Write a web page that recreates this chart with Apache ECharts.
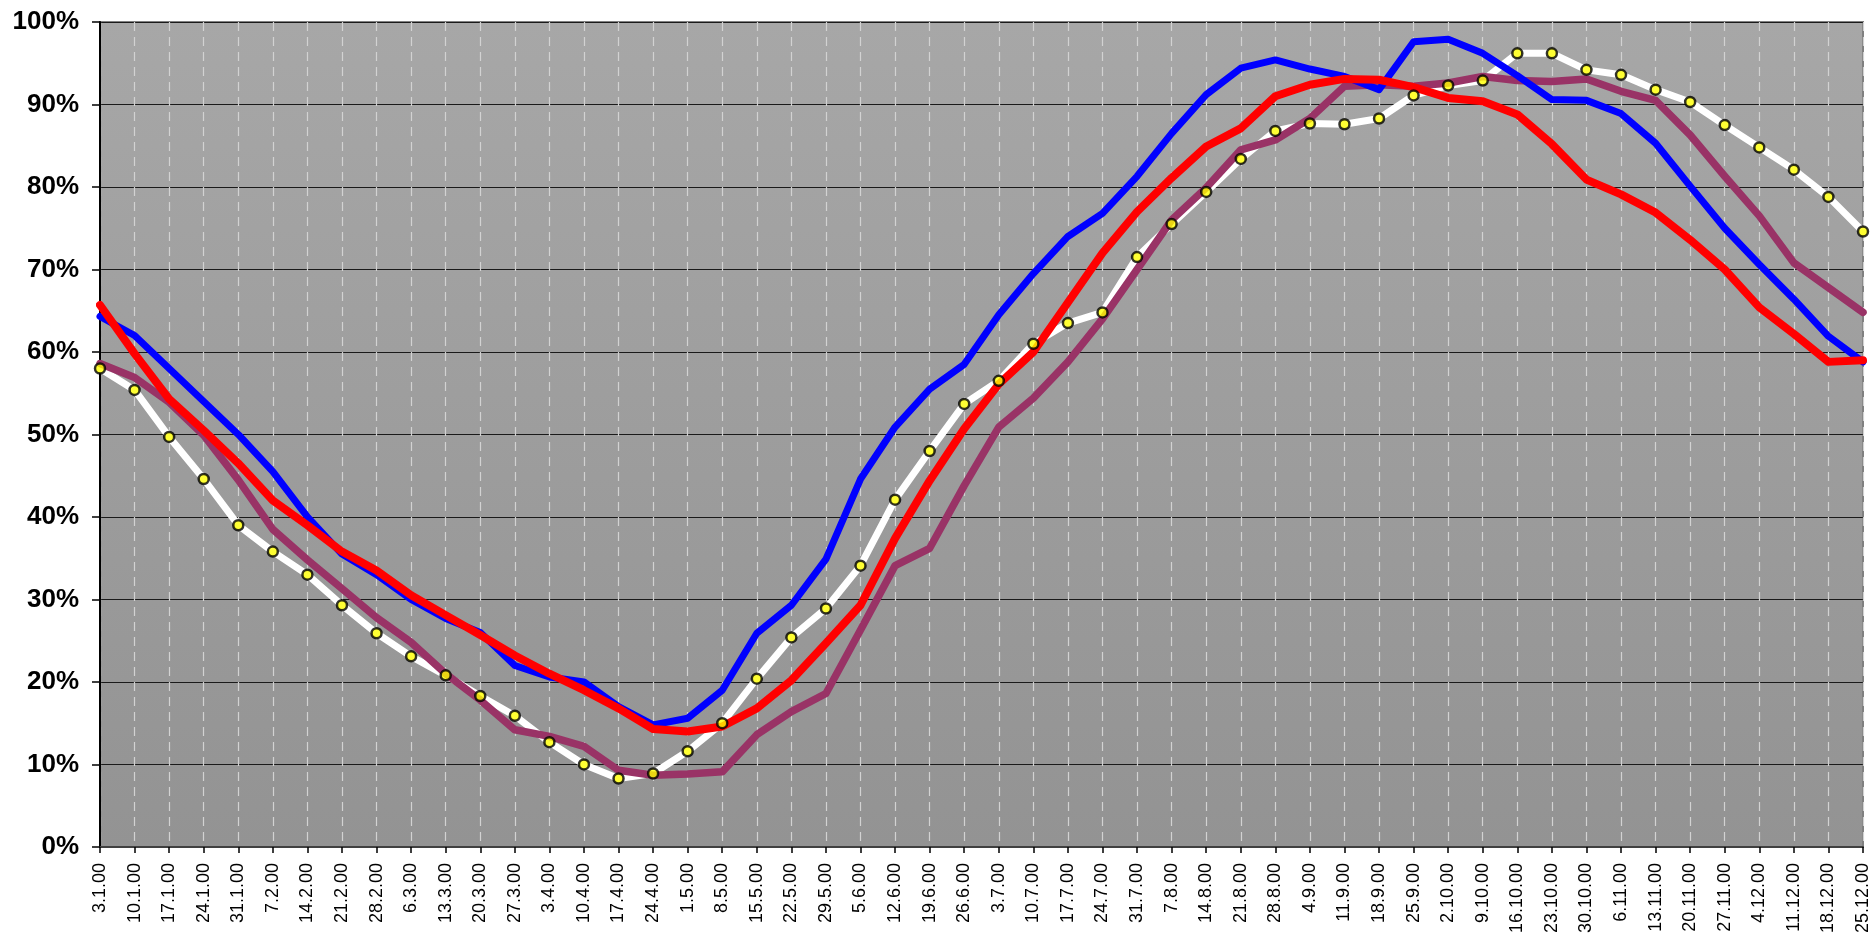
<!DOCTYPE html>
<html>
<head>
<meta charset="utf-8">
<script src="https://cdn.jsdelivr.net/npm/echarts@6/dist/echarts.min.js"></script>
<style>
html,body{margin:0;padding:0;background:#fff;}
#c{width:1874px;height:936px;}
</style>
</head>
<body>
<div id="c"></div>
<script>
const categories = ['3.1.00','10.1.00','17.1.00','24.1.00','31.1.00','7.2.00','14.2.00','21.2.00','28.2.00','6.3.00','13.3.00','20.3.00','27.3.00','3.4.00','10.4.00','17.4.00','24.4.00','1.5.00','8.5.00','15.5.00','22.5.00','29.5.00','5.6.00','12.6.00','19.6.00','26.6.00','3.7.00','10.7.00','17.7.00','24.7.00','31.7.00','7.8.00','14.8.00','21.8.00','28.8.00','4.9.00','11.9.00','18.9.00','25.9.00','2.10.00','9.10.00','16.10.00','23.10.00','30.10.00','6.11.00','13.11.00','20.11.00','27.11.00','4.12.00','11.12.00','18.12.00','25.12.00'];

const blueValues = [64.3,62.0,58.0,54.0,50.0,45.5,40.0,35.5,33.0,30.0,27.7,26.0,22.0,20.6,20.0,17.0,14.8,15.6,19.0,25.9,29.3,34.9,44.6,50.9,55.5,58.5,64.5,69.5,74.0,76.8,81.3,86.5,91.2,94.4,95.4,94.3,93.4,91.8,97.6,97.9,96.2,93.5,90.6,90.5,88.9,85.3,80.1,75.0,70.6,66.4,61.9,58.8];

const redValues = [65.7,59.8,54.3,50.5,46.5,42.0,39.0,35.8,33.5,30.5,28.1,25.7,23.2,21.0,19.0,16.8,14.3,14.0,14.6,16.8,20.2,24.7,29.3,37.4,44.4,50.7,56.1,60.0,66.0,72.0,77.0,81.1,84.9,87.1,91.0,92.4,93.1,93.0,92.1,90.8,90.4,88.8,85.2,80.9,79.1,76.9,73.6,70.0,65.4,62.2,58.8,59.0];

const purpleValues = [58.6,56.9,53.9,49.9,44.5,38.5,34.8,31.3,27.8,24.8,21.0,17.8,14.2,13.4,12.2,9.3,8.7,8.85,9.1,13.6,16.4,18.6,26.3,34.1,36.2,43.8,50.9,54.4,58.8,64.0,70.0,76.0,79.9,84.5,85.7,88.3,92.2,92.4,92.2,92.6,93.4,92.9,92.8,93.1,91.6,90.5,86.3,81.3,76.5,70.8,67.8,64.8];

const whiteValues = [58.0,55.4,49.7,44.6,39.0,35.8,33.0,29.3,25.9,23.1,20.8,18.3,15.9,12.7,10.0,8.3,8.9,11.6,15.0,20.4,25.4,28.9,34.1,42.1,48.0,53.7,56.5,61.0,63.5,64.8,71.5,75.5,79.4,83.4,86.8,87.7,87.6,88.3,91.1,92.3,92.9,96.2,96.2,94.2,93.6,91.8,90.3,87.5,84.8,82.1,78.8,74.6];

const yTicks = {min: 0, max: 100, interval: 10};

const chart = echarts.init(document.getElementById('c'), null, {renderer: 'canvas'});
chart.setOption({
  animation: false,
  backgroundColor: '#ffffff',
  grid: {
    left: 100, top: 22, right: 11, bottom: 87,
    show: true,
    backgroundColor: {
      type: 'linear', x: 0, y: 0, x2: 0, y2: 1,
      colorStops: [{offset: 0, color: '#a7a7a7'}, {offset: 1, color: '#939393'}]
    },
    borderColor: '#808080',
    borderWidth: 2
  },
  xAxis: {
    type: 'category',
    data: categories,
    boundaryGap: false,
    axisLine: {show: true, lineStyle: {color: '#404040', width: 2}},
    axisTick: {show: true, inside: false, length: 6, alignWithLabel: true, lineStyle: {color: '#000', width: 1.5}},
    axisLabel: {
      interval: 0, rotate: 90, margin: 16,
      fontFamily: "'Liberation Sans Narrow','Arial Narrow','Liberation Sans',Arial,sans-serif",
      fontSize: 18, color: '#000'
    },
    splitLine: {show: true, lineStyle: {color: '#d2d2d2', width: 1.2, type: [9, 6]}}
  },
  yAxis: {
    type: 'value',
    min: yTicks.min, max: yTicks.max, interval: yTicks.interval,
    axisLine: {show: true, lineStyle: {color: '#000', width: 2}},
    axisTick: {show: true, inside: false, length: 8, lineStyle: {color: '#000', width: 1.5}},
    axisLabel: {
      formatter: '{value}%', margin: 21,
      fontFamily: "'Liberation Sans',Arial,sans-serif",
      fontWeight: 'bold', fontSize: 26, color: '#000'
    },
    splitLine: {show: true, lineStyle: {color: '#1a1a1a', width: 1.2}}
  },
  series: [
    {
      name: 'white', type: 'line', data: whiteValues, z: 2,
      showSymbol: false, symbol: 'none',
      lineStyle: {color: '#ffffff', width: 7, cap: 'round', join: 'round'}
    },
    {
      name: 'purple', type: 'line', data: purpleValues, z: 3,
      showSymbol: false, symbol: 'none',
      lineStyle: {color: '#993366', width: 7.5, cap: 'round', join: 'round'}
    },
    {
      name: 'blue', type: 'line', data: blueValues, z: 4,
      showSymbol: false, symbol: 'none',
      lineStyle: {color: '#0000ff', width: 7, cap: 'round', join: 'round'}
    },
    {
      name: 'red', type: 'line', data: redValues, z: 5,
      showSymbol: false, symbol: 'none',
      lineStyle: {color: '#ff0000', width: 8, cap: 'round', join: 'round'}
    },
    {
      name: 'whiteMarkers', type: 'scatter', data: whiteValues, z: 6,
      symbol: 'circle', symbolSize: 10,
      itemStyle: {color: '#ffff00', borderColor: '#000', borderWidth: 2.5}
    }
  ]
});
</script>
</body>
</html>
